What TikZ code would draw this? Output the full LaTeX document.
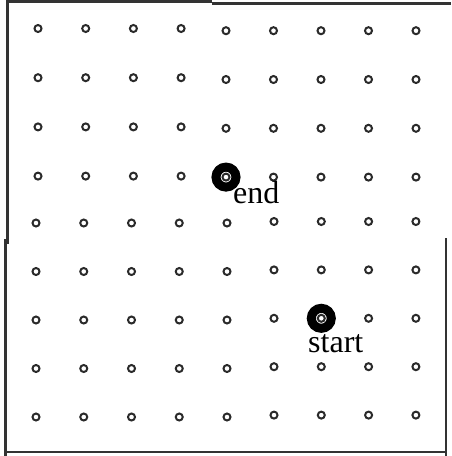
\documentclass[tikz,border=0pt]{standalone}
\usepackage{fontspec}
\setmainfont{Liberation Serif}
\definecolor{dotgray}{HTML}{2A2A2A}
\definecolor{linegray}{HTML}{333333}
\begin{document}
\begin{tikzpicture}[x=1pt,y=-1pt,
  dot/.style={circle,draw=dotgray,line width=2pt,minimum size=7pt,inner sep=0pt},
  border/.style={draw=linegray,line width=2.6pt},
  marker/.style={circle,draw=black,line width=9pt,minimum size=20pt,inner sep=0pt},
  lbl/.style={anchor=base west,inner sep=0pt,font=\fontsize{32}{32}\selectfont}]
\useasboundingbox (0,0) rectangle (451,456);
% top-left block
\foreach \c in {1,...,4}{\foreach \r in {1,...,4}{
  \node[dot] (d\c-\r) at ({38+47.7*(\c-1)},{28.5+49.2*(\r-1)}) {};}}
% top-right block
\foreach \c in {5,...,9}{\foreach \r in {1,...,4}{
  \node[dot] (d\c-\r) at ({226+47.5*(\c-5)},{30.7+48.8*(\r-1)}) {};}}
% bottom-left block
\foreach \c in {1,...,5}{\foreach \r in {5,...,9}{
  \node[dot] (d\c-\r) at ({36+47.75*(\c-1)},{223+48.5*(\r-5)}) {};}}
% bottom-right block
\foreach \c in {6,...,9}{\foreach \r in {5,...,9}{
  \node[dot] (d\c-\r) at ({274+47.3*(\c-6)},{221.5+48.4*(\r-5)}) {};}}
% markers
\node[marker] (endmk) at (d5-4) {};
\node[marker] (startmk) at (d7-7) {};
\node[lbl] (endlbl) at (233,203) {end};
\node[lbl] (startlbl) at (308,352) {start};
% borders
\draw[border] (7.5,244) -- (7.5,1.5) -- (212,1.5);
\draw[border] (212,3.5) -- (451,3.5);
\draw[border] (5.5,456) -- (5.5,239);
\draw[border] (4.5,452) -- (447,452);
\draw[border] (446,456) -- (446,238);
\end{tikzpicture}
\end{document}
